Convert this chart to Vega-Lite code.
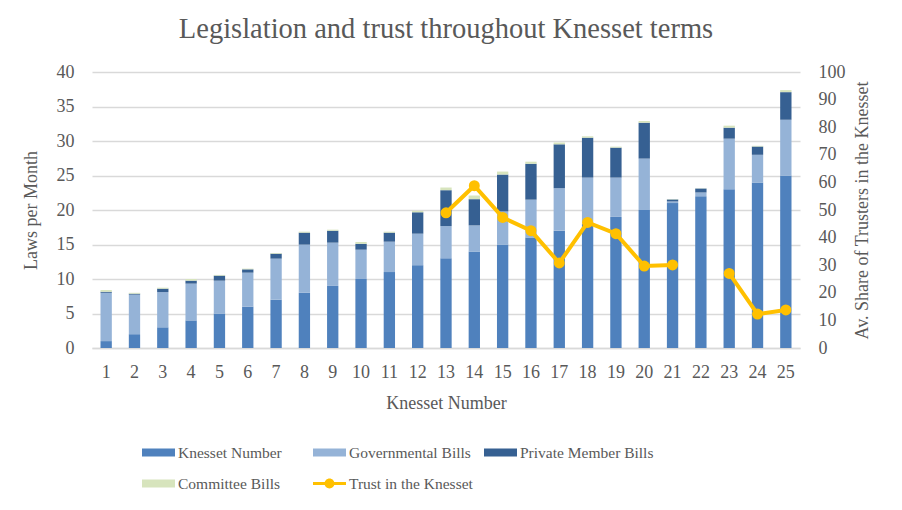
{
  "$schema": "https://vega.github.io/schema/vega-lite/v6.json",
  "autosize": "none",
  "width": 708,
  "height": 276,
  "padding": {"left": 92, "top": 72, "right": 102, "bottom": 162},
  "background": "white",
  "title": {
    "text": "Legislation and trust throughout Knesset terms",
    "font": "Liberation Serif",
    "fontSize": 28.5,
    "fontWeight": "normal",
    "color": "#595959",
    "anchor": "middle",
    "offset": 20
  },
  "config": {
    "view": {"stroke": null},
    "axis": {
      "labelFont": "Liberation Serif",
      "titleFont": "Liberation Serif",
      "labelFontSize": 18,
      "titleFontSize": 18,
      "labelColor": "#595959",
      "titleColor": "#595959",
      "titleFontWeight": "normal",
      "ticks": false,
      "domain": false
    },
    "legend": {
      "labelFont": "Liberation Serif",
      "labelFontSize": 15.5,
      "labelColor": "#595959"
    }
  },
  "data": {
    "values": [
      {"Knesset": 1, "Knesset Number": 1, "Governmental Bills": 7.0, "Private Member Bills": 0.15, "Committee Bills": 0.25, "Trust": null},
      {"Knesset": 2, "Knesset Number": 2, "Governmental Bills": 5.73, "Private Member Bills": 0.14, "Committee Bills": 0.13, "Trust": null},
      {"Knesset": 3, "Knesset Number": 3, "Governmental Bills": 5.1, "Private Member Bills": 0.5, "Committee Bills": 0.14, "Trust": null},
      {"Knesset": 4, "Knesset Number": 4, "Governmental Bills": 5.33, "Private Member Bills": 0.43, "Committee Bills": 0.24, "Trust": null},
      {"Knesset": 5, "Knesset Number": 5, "Governmental Bills": 4.76, "Private Member Bills": 0.73, "Committee Bills": 0.1, "Trust": null},
      {"Knesset": 6, "Knesset Number": 6, "Governmental Bills": 4.92, "Private Member Bills": 0.48, "Committee Bills": 0.1, "Trust": null},
      {"Knesset": 7, "Knesset Number": 7, "Governmental Bills": 5.95, "Private Member Bills": 0.72, "Committee Bills": 0.1, "Trust": null},
      {"Knesset": 8, "Knesset Number": 8, "Governmental Bills": 6.98, "Private Member Bills": 1.74, "Committee Bills": 0.14, "Trust": null},
      {"Knesset": 9, "Knesset Number": 9, "Governmental Bills": 6.27, "Private Member Bills": 1.73, "Committee Bills": 0.15, "Trust": null},
      {"Knesset": 10, "Knesset Number": 10, "Governmental Bills": 4.25, "Private Member Bills": 0.85, "Committee Bills": 0.26, "Trust": null},
      {"Knesset": 11, "Knesset Number": 11, "Governmental Bills": 4.41, "Private Member Bills": 1.31, "Committee Bills": 0.14, "Trust": null},
      {"Knesset": 12, "Knesset Number": 12, "Governmental Bills": 4.57, "Private Member Bills": 3.1, "Committee Bills": 0.2, "Trust": null},
      {"Knesset": 13, "Knesset Number": 13, "Governmental Bills": 4.67, "Private Member Bills": 5.2, "Committee Bills": 0.39, "Trust": 49.0},
      {"Knesset": 14, "Knesset Number": 14, "Governmental Bills": 3.77, "Private Member Bills": 3.8, "Committee Bills": 0.53, "Trust": 58.8},
      {"Knesset": 15, "Knesset Number": 15, "Governmental Bills": 4.79, "Private Member Bills": 5.35, "Committee Bills": 0.43, "Trust": 47.3},
      {"Knesset": 16, "Knesset Number": 16, "Governmental Bills": 5.5, "Private Member Bills": 5.2, "Committee Bills": 0.3, "Trust": 42.5},
      {"Knesset": 17, "Knesset Number": 17, "Governmental Bills": 6.16, "Private Member Bills": 6.36, "Committee Bills": 0.26, "Trust": 30.8},
      {"Knesset": 18, "Knesset Number": 18, "Governmental Bills": 6.7, "Private Member Bills": 5.78, "Committee Bills": 0.2, "Trust": 45.5},
      {"Knesset": 19, "Knesset Number": 19, "Governmental Bills": 5.7, "Private Member Bills": 4.34, "Committee Bills": 0.14, "Trust": 41.4},
      {"Knesset": 20, "Knesset Number": 20, "Governmental Bills": 7.45, "Private Member Bills": 5.2, "Committee Bills": 0.25, "Trust": 29.7},
      {"Knesset": 21, "Knesset Number": 21, "Governmental Bills": 0.24, "Private Member Bills": 0.29, "Committee Bills": 0.05, "Trust": 30.1},
      {"Knesset": 22, "Knesset Number": 22, "Governmental Bills": 0.54, "Private Member Bills": 0.57, "Committee Bills": 0.03, "Trust": null},
      {"Knesset": 23, "Knesset Number": 23, "Governmental Bills": 7.34, "Private Member Bills": 1.59, "Committee Bills": 0.29, "Trust": 27.0},
      {"Knesset": 24, "Knesset Number": 24, "Governmental Bills": 4.0, "Private Member Bills": 1.2, "Committee Bills": 0.1, "Trust": 12.3},
      {"Knesset": 25, "Knesset Number": 25, "Governmental Bills": 8.08, "Private Member Bills": 4.0, "Committee Bills": 0.3, "Trust": 13.8}
    ]
  },
  "encoding": {
    "x": {
      "field": "Knesset",
      "type": "ordinal",
      "title": "Knesset Number",
      "scale": {"paddingInner": 0.6, "paddingOuter": 0.3},
      "axis": {
        "labelAngle": 0,
        "labelPadding": 15,
        "titlePadding": 13,
        "domain": true,
        "domainColor": "#D9D9D9",
        "domainWidth": 1.5
      }
    }
  },
  "layer": [
    {
      "transform": [
        {"fold": ["Knesset Number", "Governmental Bills", "Private Member Bills", "Committee Bills"], "as": ["series", "value"]}
      ],
      "mark": {"type": "bar"},
      "encoding": {
        "y": {
          "field": "value",
          "type": "quantitative",
          "stack": "zero",
          "title": "Laws per Month",
          "scale": {"domain": [0, 40]},
          "axis": {
            "values": [0, 5, 10, 15, 20, 25, 30, 35, 40],
            "grid": true,
            "gridColor": "#D9D9D9",
            "gridWidth": 1.5,
            "labelPadding": 18,
            "titlePadding": 16
          }
        },
        "color": {
          "field": "series",
          "type": "nominal",
          "sort": ["Knesset Number", "Governmental Bills", "Private Member Bills", "Committee Bills"],
          "scale": {
            "domain": ["Knesset Number", "Governmental Bills", "Private Member Bills", "Committee Bills", "Trust in the Knesset"],
            "range": ["#4F81BD", "#95B3D7", "#366092", "#D7E4BD", "#FFC000"]
          },
          "legend": {
            "title": null,
            "orient": "none",
            "legendX": 50,
            "legendY": 364,
            "columns": 3,
            "direction": "horizontal",
            "gridAlign": "all",
            "columnPadding": 1,
            "rowPadding": 6,
            "symbolSize": 1089,
            "labelOffset": 3,
            "encode": {
              "symbols": {
                "update": {
                  "shape": {"signal": "datum.value === 'Trust in the Knesset' ? 'M-1,-0.09H1V0.09H-1Z M-0.3,0A0.3,0.3 0 1,1 0.3,0A0.3,0.3 0 1,1 -0.3,0Z' : 'M-1,-0.24H1V0.24H-1Z'"},
                  "fill": {"signal": "scale('color', datum.value)"},
                  "fillOpacity": {"value": 1},
                  "strokeWidth": {"value": 0}
                }
              }
            }
          }
        },
        "order": {"field": "Knesset", "type": "quantitative"}
      }
    },
    {
      "mark": {
        "type": "line",
        "color": "#FFC000",
        "strokeWidth": 4,
        "invalid": "break-paths-show-domains",
        "point": {"filled": true, "size": 120, "color": "#FFC000"}
      },
      "encoding": {
        "y": {
          "field": "Trust",
          "type": "quantitative",
          "title": "Av. Share of Trusters in the Knesset",
          "scale": {"domain": [0, 100]},
          "axis": {
            "orient": "right",
            "values": [0, 10, 20, 30, 40, 50, 60, 70, 80, 90, 100],
            "grid": false,
            "labelPadding": 18,
            "titlePadding": 26,
            "titleAngle": 270
          }
        },
        "color": {"datum": "Trust in the Knesset"}
      }
    }
  ],
  "resolve": {"scale": {"y": "independent"}}
}
